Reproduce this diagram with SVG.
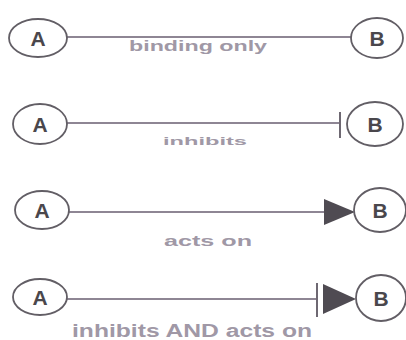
<svg xmlns="http://www.w3.org/2000/svg" width="406" height="340" viewBox="0 0 406 340">
  <style>
    .node ellipse { fill: #ffffff; stroke: #625e65; stroke-width: 1.8; }
    .node text { font-family: "Liberation Sans", Arial, sans-serif; font-weight: bold; font-size: 21px; fill: #4a474c; text-anchor: middle; }
    .edge { stroke: #8e8694; stroke-width: 2; fill: none; }
    .bar { stroke: #6e6872; stroke-width: 2; }
    .head { fill: #4f4b52; }
    .label { font-family: "Liberation Sans", Arial, sans-serif; font-weight: bold; fill: #a098a6; text-anchor: middle; }
  </style>
  <rect width="406" height="340" fill="#ffffff"/>

  <g id="connectors">
    <!-- binding only -->
    <line class="edge" x1="67" y1="37" x2="351" y2="37"/>
    <!-- inhibits -->
    <line class="edge" x1="67" y1="123" x2="340" y2="123"/>
    <line class="bar" x1="340" y1="112" x2="340" y2="138"/>
    <!-- acts on -->
    <line class="edge" x1="69" y1="212" x2="326" y2="212"/>
    <polygon class="head" points="324,199 355,212 324,225"/>
    <!-- inhibits AND acts on -->
    <line class="edge" x1="67" y1="299" x2="318" y2="299"/>
    <line class="bar" x1="317" y1="283" x2="317" y2="317"/>
    <polygon class="head" points="323,284 356,299 323,314"/>

    <text class="label" x="198" y="51" font-size="15" textLength="138" lengthAdjust="spacingAndGlyphs">binding only</text>
    <text class="label" x="205" y="145" font-size="11" textLength="84" lengthAdjust="spacingAndGlyphs">inhibits</text>
    <text class="label" x="208" y="246" font-size="15" textLength="88" lengthAdjust="spacingAndGlyphs">acts on</text>
    <text class="label" x="192" y="337" font-size="18" textLength="240" lengthAdjust="spacingAndGlyphs">inhibits AND acts on</text>
  </g>

  <g id="A1" class="node"><ellipse cx="38" cy="38" rx="29" ry="19"/><text x="38" y="46">A</text></g>
  <g id="B1" class="node"><ellipse cx="377" cy="38" rx="26" ry="20"/><text x="377" y="46">B</text></g>

  <g id="A2" class="node"><ellipse cx="40" cy="124" rx="27" ry="20"/><text x="40" y="132">A</text></g>
  <g id="B2" class="node"><ellipse cx="375" cy="124" rx="28" ry="22"/><text x="375" y="132">B</text></g>

  <g id="A3" class="node"><ellipse cx="42" cy="210" rx="27" ry="19"/><text x="42" y="218">A</text></g>
  <g id="B3" class="node"><ellipse cx="380" cy="210" rx="26" ry="22"/><text x="380" y="218">B</text></g>

  <g id="A4" class="node"><ellipse cx="40" cy="297" rx="27" ry="18"/><text x="40" y="305">A</text></g>
  <g id="B4" class="node"><ellipse cx="381" cy="298" rx="25" ry="23"/><text x="381" y="306">B</text></g>
</svg>
